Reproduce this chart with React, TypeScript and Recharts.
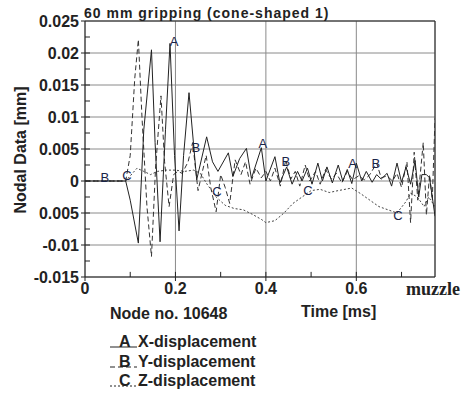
import {
  CartesianGrid,
  Line,
  LineChart,
  ReferenceDot,
  ReferenceLine,
  XAxis,
  YAxis,
} from "recharts";

// X-displacement (curve A, solid)
const timeX = [
  0, 0.09, 0.1, 0.118, 0.13, 0.147, 0.155, 0.166, 0.178, 0.188, 0.198, 0.208,
  0.218, 0.23, 0.247, 0.269, 0.282, 0.294, 0.317, 0.327, 0.342, 0.357, 0.368,
  0.39, 0.4, 0.42, 0.431, 0.446, 0.458, 0.47, 0.48, 0.492, 0.502, 0.515, 0.525,
  0.535, 0.547, 0.56, 0.57, 0.58, 0.59, 0.6, 0.612, 0.622, 0.635, 0.645, 0.655,
  0.668, 0.678, 0.69, 0.7, 0.71, 0.72, 0.73, 0.738, 0.745, 0.755, 0.762, 0.774,
];
const dispX = [
  0, 0, -0.003, -0.0097, 0.008, 0.0205, 0.006, -0.0095, 0.008, 0.0215, 0.004,
  -0.0078, 0.004, 0.0138, 0.0002, 0.0069, 0.003, 0.0015, 0.0044, 0.0007,
  0.0035, 0.0051, 0.0004, 0.0052, 0, 0.0038, -0.0003, 0.0022, -0.0005, 0.0015,
  0, 0.002, -0.0005, 0.0028, 0, 0.0022, -0.0003, 0.0025, 0, 0.0018, -0.0004,
  0.0028, 0, 0.0015, -0.0002, 0.001, 0.0003, 0.0012, -0.0008, 0.0028, -0.0002,
  0.0022, -0.0005, 0.0032, -0.0025, 0.001, 0.001, 0.0005, -0.0055,
];

// Y-displacement (curve B, dashed)
const timeY = [
  0, 0.09, 0.1, 0.11, 0.118, 0.126, 0.137, 0.147, 0.156, 0.168, 0.176, 0.186,
  0.196, 0.205, 0.215, 0.228, 0.238, 0.25, 0.258, 0.268, 0.278, 0.29, 0.3,
  0.31, 0.32, 0.332, 0.345, 0.355, 0.365, 0.378, 0.39, 0.4, 0.41, 0.42, 0.432,
  0.444, 0.455, 0.465, 0.475, 0.487, 0.497, 0.51, 0.52, 0.532, 0.545, 0.556,
  0.568, 0.58, 0.592, 0.605, 0.618, 0.63, 0.645, 0.655, 0.668, 0.68, 0.69, 0.7,
  0.712, 0.72, 0.728, 0.736, 0.748, 0.755, 0.762, 0.768, 0.774,
];
const dispY = [
  0, 0, 0.004, 0.016, 0.0221, 0.01, -0.004, -0.0118, 0.002, 0.0133, 0.003,
  -0.004, 0.001, 0.0015, 0.0012, 0.003, 0.006, -0.0015, 0.001, 0.004, -0.001,
  -0.0048, 0.001, -0.001, -0.0035, 0.0033, 0.001, 0.003, -0.0005, 0.002,
  0.0005, 0.0015, 0, 0.002, -0.0008, 0.0033, 0.0003, 0.0015, -0.0008, 0.0025,
  0, 0.0015, -0.0005, 0.0018, 0.0003, 0.0012, -0.0003, 0.0015, 0.0002, 0.0008,
  0.0002, 0.001, 0.0028, 0.0005, 0.0008, 0, 0.0012, -0.001, 0.003, -0.0065,
  0.0045, -0.003, 0.006, -0.0053, 0.001, -0.003, 0.0098,
];

// Z-displacement (curve C, dotted)
const timeZ = [
  0, 0.09, 0.1, 0.115, 0.13, 0.145, 0.16, 0.18, 0.2, 0.22, 0.24, 0.255, 0.27,
  0.29, 0.31, 0.33, 0.35, 0.37, 0.39, 0.4, 0.42, 0.44, 0.46, 0.48, 0.5, 0.52,
  0.54, 0.56, 0.59, 0.61, 0.63, 0.65, 0.67, 0.69, 0.71, 0.72, 0.735, 0.75,
  0.76, 0.774,
];
const dispZ = [
  0, 0, 0.0008, 0.002, 0.0015, 0.001, 0.0015, 0.0017, 0.0017, 0.0015, 0.0017,
  0.0012, -0.0005, -0.0025, -0.0038, -0.0043, -0.0045, -0.0052, -0.006,
  -0.0065, -0.0062, -0.005, -0.0035, -0.0025, -0.0015, -0.0013, -0.0018,
  -0.0015, -0.0011, -0.002, -0.003, -0.004, -0.0045, -0.005, -0.0032, -0.0019,
  -0.0025, -0.004, -0.0025, -0.004,
];

// curve letters written on the plot
const markerLetters = ["A", "A", "A", "B", "B", "B", "B", "C", "C", "C", "C"];
const markerTimes = [0.197, 0.393, 0.592, 0.044, 0.245, 0.444, 0.643, 0.093, 0.292, 0.493, 0.692];
const markerValues = [0.0218, 0.0059, 0.0027, 0.0006, 0.0053, 0.0031, 0.0028, 0.0008, -0.0017, -0.0014, -0.0053];

const legendLetters = ["A", "B", "C"];
const legendNames = ["X-displacement", "Y-displacement", "Z-displacement"];
const legendDashes = ["", "5 3", "2 2"];

const xTicks = [0, 0.2, 0.4, 0.6];
const xTickLabels = ["0", "0.2", "0.4", "0.6"];
const xMinor = [0.1, 0.2, 0.3, 0.4, 0.5, 0.6, 0.7];
const yTicks = [-0.015, -0.01, -0.005, 0, 0.005, 0.01, 0.015, 0.02, 0.025];
const yTickLabels = ["-0.015", "-0.01", "0.005", "0", "0.005", "0.01", "0.015", "0.02", "0.025"];
const yMinor = [-0.0125, -0.01, -0.0075, -0.005, -0.0025, 0, 0.0025, 0.005, 0.0075, 0.01, 0.0125, 0.015, 0.0175, 0.02, 0.0225];

const X_MAX = 0.774;
const Y_MIN = -0.015;
const Y_MAX = 0.025;
const INK = "#222";
const GRID = "#8a8a8a";
const SANS = "'Liberation Sans', Arial, sans-serif";

const toRows = (ts: number[], vs: number[]) => ts.map((t, i) => ({ t, v: vs[i] }));

const tickStyle = { fontSize: 16, fontWeight: 700, fill: INK, fontFamily: SANS };

export default function App() {
  const rowsX = toRows(timeX, dispX);
  const rowsY = toRows(timeY, dispY);
  const rowsZ = toRows(timeZ, dispZ);

  return (
    <div
      style={{
        position: "absolute",
        left: 0,
        top: 0,
        width: 462,
        height: 394,
        background: "#fff",
        fontFamily: SANS,
        fontWeight: 700,
        fontSize: 16,
        color: INK,
      }}
    >
      <LineChart width={462} height={394} margin={{ top: 21, right: 27, bottom: 87, left: 0 }}>
        <CartesianGrid stroke={GRID} strokeWidth={1} />
        <XAxis
          type="number"
          dataKey="t"
          domain={[0, X_MAX]}
          ticks={xTicks}
          allowDataOverflow
          height={30}
          tickSize={4}
          tick={tickStyle}
          tickFormatter={(_v, i) => xTickLabels[i]}
          stroke={INK}
        />
        <YAxis
          type="number"
          domain={[Y_MIN, Y_MAX]}
          ticks={yTicks}
          allowDataOverflow
          width={85}
          tickSize={4}
          tick={tickStyle}
          tickFormatter={(_v, i) => yTickLabels[i]}
          stroke={INK}
        />
        <ReferenceLine x={X_MAX} stroke={INK} />
        <ReferenceLine y={Y_MAX} stroke={INK} />
        {xMinor.map((t) => (
          <ReferenceLine
            key={"xm" + t}
            segment={[
              { x: t, y: Y_MIN },
              { x: t, y: Y_MIN + 0.0008 },
            ]}
            stroke={INK}
          />
        ))}
        {yMinor.map((v) => (
          <ReferenceLine
            key={"ym" + v}
            segment={[
              { x: 0, y: v },
              { x: 0.011, y: v },
            ]}
            stroke={INK}
          />
        ))}
        <Line
          data={rowsZ}
          dataKey="v"
          type="linear"
          stroke="#444"
          strokeWidth={1}
          strokeDasharray="2 2"
          dot={false}
          isAnimationActive={false}
        />
        <Line
          data={rowsY}
          dataKey="v"
          type="linear"
          stroke="#333"
          strokeWidth={1}
          strokeDasharray="5 3"
          dot={false}
          isAnimationActive={false}
        />
        <Line
          data={rowsX}
          dataKey="v"
          type="linear"
          stroke="#222"
          strokeWidth={1}
          dot={false}
          isAnimationActive={false}
        />
        {markerLetters.map((m, i) => (
          <ReferenceDot
            key={"mk" + i}
            x={markerTimes[i]}
            y={markerValues[i]}
            r={0}
            stroke="none"
            fill="none"
            label={{
              value: m,
              position: "center",
              fontSize: 13,
              fontWeight: 400,
              fill: "#1a2448",
              fontFamily: SANS,
            }}
          />
        ))}
      </LineChart>

      <div style={{ position: "absolute", left: 84, top: 5, fontSize: 14, letterSpacing: 1, whiteSpace: "nowrap" }}>
        60 mm gripping (cone-shaped 1)
      </div>
      <div
        style={{
          position: "absolute",
          left: 21,
          top: 150,
          transform: "translate(-50%, -50%) rotate(-90deg)",
          whiteSpace: "nowrap",
        }}
      >
        Nodal Data [mm]
      </div>
      <div
        style={{
          position: "absolute",
          left: 406,
          top: 279,
          fontFamily: "'Liberation Serif', 'Times New Roman', serif",
          fontSize: 18,
          whiteSpace: "nowrap",
        }}
      >
        muzzle
      </div>
      <div style={{ position: "absolute", left: 110, top: 305, whiteSpace: "nowrap" }}>Node no. 10648</div>
      <div style={{ position: "absolute", left: 301, top: 303, whiteSpace: "nowrap" }}>Time [ms]</div>

      {legendNames.map((name, i) => (
        <div key={name} style={{ position: "absolute", left: 110, top: 333 + i * 19.5, height: 20 }}>
          <svg width={28} height={20} style={{ position: "absolute", left: 0, top: 0 }}>
            <line x1={0} x2={27} y1={14} y2={14} stroke={INK} strokeWidth={1} strokeDasharray={legendDashes[i]} />
          </svg>
          <span style={{ position: "absolute", left: 9, top: 0 }}>{legendLetters[i]}</span>
          <span style={{ position: "absolute", left: 28, top: 0, whiteSpace: "nowrap" }}>{name}</span>
        </div>
      ))}
    </div>
  );
}
